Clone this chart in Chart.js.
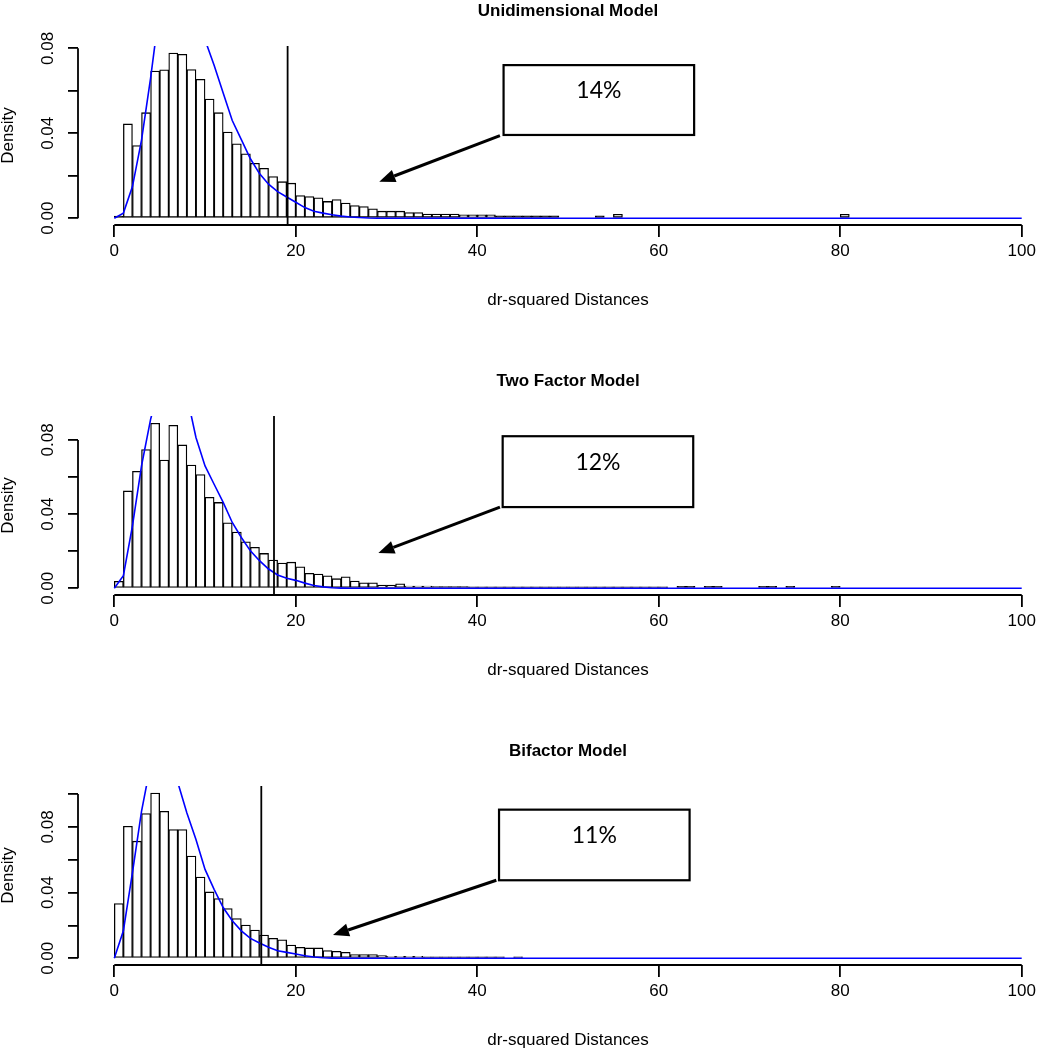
<!DOCTYPE html>
<html>
<head>
<meta charset="utf-8">
<title>dr-squared Distances</title>
<script src="https://cdn.jsdelivr.net/npm/chart.js@4.4.1/dist/chart.umd.min.js"></script>
<style>
  html, body { margin: 0; padding: 0; background: #fff; overflow: hidden; }
  body { width: 1038px; height: 1050px; position: relative; }
  .panel { position: absolute; left: 0; width: 1100px; height: 370px; }
  .panel canvas { display: block; }
</style>
</head>
<body>
<div class="panel" style="top:0px"><canvas id="uniChart" width="1100" height="370"></canvas></div>
<div class="panel" style="top:370px"><canvas id="twoChart" width="1100" height="370"></canvas></div>
<div class="panel" style="top:740px"><canvas id="biChart" width="1100" height="370"></canvas></div>
<script>
/* ================================================================
   dr-squared distance histograms · three models, R-style look
   ================================================================ */

// ── Axis ticks ───────────────────────────────────────────────
const xTicks      = [0, 20, 40, 60, 80, 100];
const yLabelTicks = [0, 0.04, 0.08];
const yTicksShort = [0, 0.02, 0.04, 0.06, 0.08];
const yTicksTall  = [0, 0.02, 0.04, 0.06, 0.08, 0.10];

// ── Histogram densities, one value per unit-width bin starting at 0 ──
const uniDensity = [
  0.001, 0.0444, 0.0342, 0.0497, 0.0693, 0.0699, 0.0778, 0.0772, 0.0700, 0.0654,
  0.0561, 0.0497, 0.0406, 0.0350, 0.0303, 0.0259, 0.0235, 0.0196, 0.0172, 0.0165,
  0.0107, 0.0102, 0.0096, 0.0079, 0.0088, 0.0071, 0.0060, 0.0055, 0.0044, 0.0033,
  0.0033, 0.0033, 0.0027, 0.0027, 0.0020, 0.0020, 0.0020, 0.0020, 0.0016, 0.0016,
  0.0016, 0.0016, 0.0011, 0.0011, 0.0011, 0.0011, 0.0011, 0.0011, 0.0011, 0,
  0, 0, 0, 0.0011, 0, 0.0018, 0, 0, 0, 0,
  0, 0, 0, 0, 0, 0, 0, 0, 0, 0,
  0, 0, 0, 0, 0, 0, 0, 0, 0, 0,
  0.0018
];
const twoDensity = [
  0.0038, 0.0525, 0.0631, 0.0748, 0.0890, 0.0692, 0.0879, 0.0773, 0.0665, 0.0613,
  0.0491, 0.0463, 0.0353, 0.0303, 0.0251, 0.0221, 0.0188, 0.0152, 0.0136, 0.0141,
  0.0116, 0.0081, 0.0077, 0.0068, 0.0052, 0.0062, 0.0039, 0.0030, 0.0030, 0.0017,
  0.0017, 0.0024, 0.0012, 0.0012, 0.0012, 0.0010, 0.0010, 0.0010, 0.0010, 0.0008,
  0.0008, 0.0008, 0.0008, 0.0008, 0.0008, 0.0008, 0.0008, 0.0008, 0.0008, 0.0008,
  0.0008, 0.0008, 0.0008, 0.0008, 0.0008, 0.0008, 0.0008, 0.0008, 0.0008, 0.0008,
  0.0008, 0, 0.0011, 0.0011, 0, 0.0011, 0.0011, 0, 0, 0,
  0, 0.0011, 0.0011, 0, 0.0011, 0, 0, 0, 0, 0.0011
];
const biDensity = [
  0.0333, 0.0804, 0.0713, 0.0881, 0.1006, 0.0895, 0.0784, 0.0784, 0.0622, 0.0495,
  0.0404, 0.0364, 0.0303, 0.0242, 0.0202, 0.0172, 0.0141, 0.0121, 0.0113, 0.0081,
  0.0067, 0.0063, 0.0063, 0.0047, 0.0042, 0.0036, 0.0022, 0.0022, 0.0022, 0.0016,
  0.0012, 0.0012, 0.0012, 0.0012, 0.0008, 0.0008, 0.0008, 0.0008, 0.0008, 0.0008,
  0.0008, 0.0008, 0.0008, 0, 0.0008
];

// ── Reference density curves (blue) ─────────────────────────
const curveX = [
  0, 1, 2, 3, 4, 5, 6, 7, 8, 9, 10, 11, 12, 13, 14, 15,
  16, 17, 18, 19, 20, 21, 22, 23, 24, 25, 26, 27, 28, 29, 30, 100
];
const uniCurve = [
  0, 0.0024, 0.0149, 0.0368, 0.066, 0.099, 0.115, 0.118, 0.112, 0.100, 0.084, 0.072, 0.059, 0.046, 0.037, 0.028,
  0.021, 0.016, 0.0125, 0.010, 0.0075, 0.005, 0.0033, 0.0024, 0.0016, 0.001, 0.0006, 0.0003, 0.0001, 0, 0, 0
];
const twoCurve = [
  0, 0.0068, 0.0337, 0.066, 0.0911, 0.110, 0.118, 0.115, 0.104, 0.0813, 0.066, 0.0561, 0.0463, 0.0355, 0.0274, 0.0202,
  0.0149, 0.0104, 0.0072, 0.0054, 0.0043, 0.0028, 0.0015, 0.0008, 0.0003, 0.0001, 0, 0, 0, 0, 0, 0
];
const biCurve = [
  0, 0.0167, 0.0521, 0.0895, 0.118, 0.125, 0.120, 0.107, 0.0885, 0.0723, 0.0541, 0.042, 0.0309, 0.0228, 0.0167, 0.0121,
  0.0093, 0.0067, 0.0046, 0.0036, 0.0026, 0.0015, 0.0008, 0.0003, 0.0001, 0, 0, 0, 0, 0, 0, 0
];

// ── Cut-off lines, titles and call-outs ──────────────────────
const cutoffs = [19.1, 17.6, 16.2];
const titles  = ['Unidimensional Model', 'Two Factor Model', 'Bifactor Model'];
const notes   = ['14%', '12%', '11%'];
const yRanges = [[-0.0032, 0.0811], [-0.0036, 0.0929], [-0.0041, 0.1049]];
// call-out box (x0, yTop, x1, yBottom) and arrow (from x, y -> to x, y) in data units
const noteBoxes  = [[42.9, 0.0721, 63.9, 0.0392], [42.8, 0.0820, 63.8, 0.0438], [42.4, 0.0905, 63.4, 0.0475]];
const noteArrows = [[42.5, 0.0389, 29.2, 0.0172], [42.5, 0.0438, 29.1, 0.0190], [42.1, 0.0475, 24.1, 0.0141]];

// ── Chart.js defaults ────────────────────────────────────────
Chart.defaults.font.family = "'Liberation Sans', Arial, sans-serif";
Chart.defaults.color = '#000';

/* ============================================================
   R-STYLE DECORATION PLUGIN (axis lines, labels, call-outs)
   ============================================================ */
function drawArrow(ctx, x0, y0, x1, y1) {
    const ang  = Math.atan2(y1 - y0, x1 - x0);
    const head = 16, half = 6.5;
    const bx = x1 - head * Math.cos(ang);
    const by = y1 - head * Math.sin(ang);
    ctx.lineWidth = 3;
    ctx.beginPath();
    ctx.moveTo(x0, y0);
    ctx.lineTo(bx, by);
    ctx.stroke();
    ctx.beginPath();
    ctx.moveTo(x1, y1);
    ctx.lineTo(bx + half * Math.sin(ang), by - half * Math.cos(ang));
    ctx.lineTo(bx - half * Math.sin(ang), by + half * Math.cos(ang));
    ctx.closePath();
    ctx.fill();
}

const rStyle = {
    id: 'rStyle',
    afterDraw(chart, args, opts) {
        const { ctx, chartArea: ca } = chart;
        const xs = chart.scales.x, ys = chart.scales.y;
        ctx.save();
        ctx.strokeStyle = '#000';
        ctx.fillStyle = '#000';

        // title
        ctx.font = "bold 17px 'Liberation Sans', Arial, sans-serif";
        ctx.textAlign = 'center';
        ctx.textBaseline = 'middle';
        ctx.fillText(opts.title, (ca.left + ca.right) / 2, ca.top - 35);

        // axis lines (only across the tick range, like R)
        ctx.lineWidth = 1.8;
        ctx.beginPath();
        ctx.moveTo(xs.getPixelForValue(xTicks[0]), ca.bottom);
        ctx.lineTo(xs.getPixelForValue(xTicks[xTicks.length - 1]), ca.bottom);
        ctx.moveTo(ca.left, ys.getPixelForValue(0));
        ctx.lineTo(ca.left, ys.getPixelForValue(opts.yTop));
        ctx.stroke();

        // rotated y tick labels
        ctx.font = "17px 'Liberation Sans', Arial, sans-serif";
        yLabelTicks.forEach(v => {
            ctx.save();
            ctx.translate(ca.left - 30, ys.getPixelForValue(v));
            ctx.rotate(-Math.PI / 2);
            ctx.fillText(v.toFixed(2), 0, 0);
            ctx.restore();
        });

        // call-out box
        const [bx0, by0, bx1, by1] = opts.box;
        const px0 = xs.getPixelForValue(bx0), py0 = ys.getPixelForValue(by0);
        const px1 = xs.getPixelForValue(bx1), py1 = ys.getPixelForValue(by1);
        ctx.fillStyle = '#fff';
        ctx.fillRect(px0, py0, px1 - px0, py1 - py0);
        ctx.lineWidth = 2.2;
        ctx.strokeRect(px0, py0, px1 - px0, py1 - py0);
        ctx.fillStyle = '#000';
        ctx.font = "23px Lato, 'Open Sans', sans-serif";
        ctx.fillText(opts.note, (px0 + px1) / 2, py0 + (py1 - py0) * 0.37);

        // arrow
        const [ax0, ay0, ax1, ay1] = opts.arrow;
        drawArrow(ctx, xs.getPixelForValue(ax0), ys.getPixelForValue(ay0),
                       xs.getPixelForValue(ax1), ys.getPixelForValue(ay1));
        ctx.restore();
    }
};

/* ============================================================
   PANEL BUILDER
   ============================================================ */
function buildPanel(canvasId, k, density, curve, yTicks) {
    const [yMin, yMax] = yRanges[k];
    const bins = density
        .map((d, i) => ({ x: i + 0.5, y: d }))
        .filter(p => p.y > 0);

    return new Chart(document.getElementById(canvasId), {
        type: 'bar',
        data: {
            datasets: [
                {
                    type: 'line',
                    data: [{ x: cutoffs[k], y: yMin }, { x: cutoffs[k], y: yMax }],
                    borderColor: '#000',
                    borderWidth: 1.8,
                    pointRadius: 0,
                    order: 1
                },
                {
                    type: 'line',
                    data: curveX.map((x, i) => ({ x, y: curve[i] })),
                    borderColor: '#0000ff',
                    borderWidth: 1.6,
                    pointRadius: 0,
                    tension: 0,
                    order: 2
                },
                {
                    type: 'bar',
                    data: bins,
                    // very short bins collapse to a solid black sliver, as in R
                    backgroundColor: c => (c.raw && c.raw.y < 0.0012 ? '#000' : '#fff'),
                    borderColor: '#000',
                    borderWidth: 1.3,
                    borderSkipped: false,
                    barPercentage: 1,
                    categoryPercentage: 1,
                    order: 3
                }
            ]
        },
        options: {
            responsive: false,
            animation: false,
            events: [],
            layout: { padding: { top: 46, left: 0, right: 42, bottom: 59 } },
            plugins: {
                legend: { display: false },
                tooltip: { enabled: false },
                rStyle: {
                    title: titles[k],
                    note: notes[k],
                    box: noteBoxes[k],
                    arrow: noteArrows[k],
                    yTop: yTicks[yTicks.length - 1]
                }
            },
            scales: {
                x: {
                    type: 'linear',
                    min: -4,
                    max: 104,
                    offset: false,
                    afterBuildTicks: s => { s.ticks = xTicks.map(v => ({ value: v })); },
                    afterFit: s => { s.height = 86; },
                    grid: { offset: false, drawOnChartArea: false, tickLength: 12, color: '#000', lineWidth: 1.8 },
                    border: { display: false },
                    ticks: { color: '#000', font: { size: 17 }, padding: 4, maxRotation: 0, autoSkip: false },
                    title: { display: true, text: 'dr-squared Distances', color: '#000', font: { size: 17 }, padding: 0 }
                },
                y: {
                    min: yMin,
                    max: yMax,
                    afterBuildTicks: s => { s.ticks = yTicks.map(v => ({ value: v })); },
                    afterFit: s => { s.width = 78; },
                    grid: { offset: false, drawOnChartArea: false, tickLength: 10, color: '#000', lineWidth: 1.8 },
                    border: { display: false },
                    ticks: { display: false },
                    title: { display: true, text: 'Density', color: '#000', font: { size: 17 }, padding: { top: -2, bottom: 0 } }
                }
            }
        },
        plugins: [rStyle]
    });
}

buildPanel('uniChart', 0, uniDensity, uniCurve, yTicksShort);
buildPanel('twoChart', 1, twoDensity, twoCurve, yTicksShort);
buildPanel('biChart',  2, biDensity,  biCurve,  yTicksTall);
</script>
</body>
</html>
